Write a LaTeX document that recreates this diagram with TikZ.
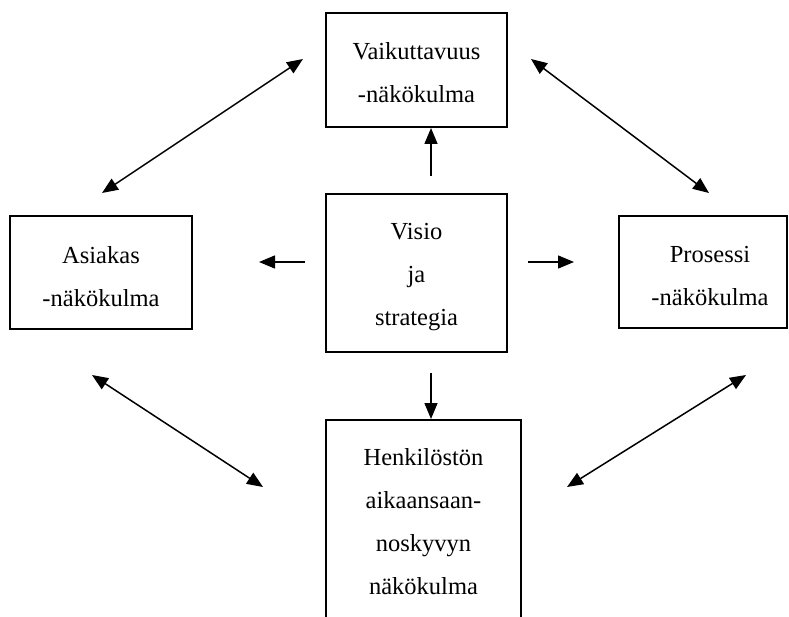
\documentclass[tikz,border=0pt]{standalone}
\usepackage{fontspec}
\setmainfont{Liberation Serif}
\usetikzlibrary{arrows.meta}
\begin{document}
\begin{tikzpicture}[x=1bp,y=-1bp,
  box/.style={draw, line width=2bp, rectangle, inner sep=0pt},
  label/.style={inner sep=0pt, align=center,
    font=\fontsize{24.5bp}{43bp}\selectfont},
  conn/.style={line width=1.5bp, -{Triangle[length=16bp,width=13bp]}},
  biconn/.style={line width=1.5bp,
    {Triangle[length=16bp,width=13bp]}-{Triangle[length=16bp,width=13bp]}}]
\useasboundingbox (0,0) rectangle (789,617);
\clip (0,0) rectangle (789,617);

% perspective boxes
\node[box, minimum width=181bp, minimum height=114bp] (vaik) at (416.5,70) {};
\node[box, minimum width=181bp, minimum height=158bp] (visio) at (416.5,273) {};
\node[box, minimum width=182bp, minimum height=113bp] (asiak) at (101,272.5) {};
\node[box, minimum width=168bp, minimum height=112bp] (pros) at (703,272) {};
\node[box, minimum width=195bp, minimum height=206bp] (henk) at (423.5,523) {};

% box texts
\node[label] (vaiktext) at ([yshift=-2.5bp]vaik.center) {Vaikuttavuus\\-näkökulma};
\node[label] (visiotext) at ([yshift=-4bp]visio.center) {Visio\\ja\\strategia};
\node[label] (asiaktext) at ([yshift=-4bp]asiak.center) {Asiakas\\-näkökulma};
\node[label] (prostext) at ([xshift=7bp,yshift=-4bp]pros.center) {Prosessi\\-näkökulma};
\node[label] (henktext) at ([yshift=1bp]henk.center)
  {Henkilöstön\\aikaansaan-\\noskyvyn\\näkökulma};

% free ends of the connectors
\coordinate (upfrom) at (431,176);
\coordinate (downfrom) at (431,373);
\coordinate (lfrom) at (305,262);
\coordinate (lto) at (259,262);
\coordinate (rfrom) at (528,262);
\coordinate (rto) at (574,262);
\coordinate (tl1) at (102,193);
\coordinate (tl2) at (303,59);
\coordinate (tr1) at (531,59);
\coordinate (tr2) at (709,193);
\coordinate (bl1) at (92,375);
\coordinate (bl2) at (263,487);
\coordinate (br1) at (746,375);
\coordinate (br2) at (567,487);

% arrows out of the centre
\draw[conn] (upfrom) -- (upfrom |- vaik.south);
\draw[conn] (downfrom) -- (downfrom |- henk.north);
\draw[conn] (lfrom) -- (lto);
\draw[conn] (rfrom) -- (rto);

% two-way arrows between neighbouring perspectives
\draw[biconn] (tl1) -- (tl2);
\draw[biconn] (tr1) -- (tr2);
\draw[biconn] (bl1) -- (bl2);
\draw[biconn] (br1) -- (br2);
\end{tikzpicture}
\end{document}
